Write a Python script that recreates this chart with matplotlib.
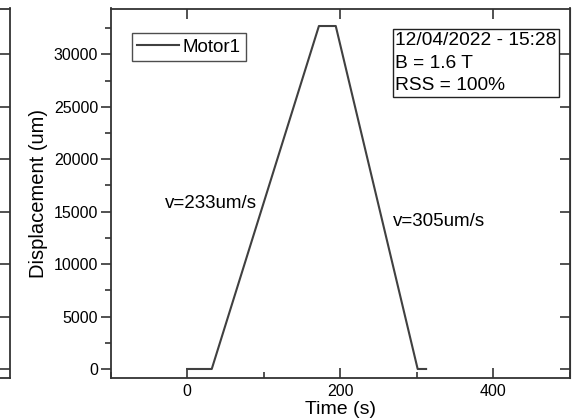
import matplotlib
matplotlib.use("Agg")
import matplotlib.pyplot as plt
from matplotlib.ticker import MultipleLocator

plt.rcParams['font.family'] = ['Liberation Sans', 'DejaVu Sans']

time_s = [0, 32, 172, 194, 301, 312]
disp_um = [0, 0, 32700, 32700, 0, 0]
series_name = "Motor1"
info_lines = ["12/04/2022 - 15:28", "B = 1.6 T", "RSS = 100%"]
ann_rise = "v=233um/s"
ann_fall = "v=305um/s"

W, H = 573, 420
fig = plt.figure(figsize=(W / 100, H / 100), dpi=100)

L, R, T, B = 110.7, 570, 8.5, 378
ax = fig.add_axes([L / W, 1 - B / H, (R - L) / W, (B - T) / H])

col = '#333333'
ax.plot(time_s, disp_um, color='#404040', lw=1.5, label=series_name)
ax.set_xlim(-100, 500)
ax.set_ylim(-860, 34370)

for s in ax.spines.values():
    s.set_color(col)
    s.set_linewidth(1.3)

ax.xaxis.set_major_locator(MultipleLocator(200))
ax.xaxis.set_minor_locator(MultipleLocator(100))
ax.yaxis.set_major_locator(MultipleLocator(5000))
ax.yaxis.set_minor_locator(MultipleLocator(2500))
ax.tick_params(axis='x', which='major', direction='in', length=7, width=1.2, top=True,
               labelsize=11.5, color=col, pad=4)
ax.tick_params(axis='x', which='minor', direction='in', length=4, width=1.2, top=False, color=col)
ax.tick_params(axis='y', which='major', direction='out', length=7, width=1.2, right=False,
               labelsize=11.5, color=col, pad=2)
ax.tick_params(axis='y', which='minor', direction='out', length=4, width=1.2, right=False, color=col)

sec = ax.secondary_yaxis('right')
sec.yaxis.set_major_locator(MultipleLocator(5000))
sec.tick_params(direction='in', length=7, width=1.2, labelright=False, color=col)
sec.spines['right'].set_color(col)

ax.set_xlabel("Time (s)", fontsize=14, labelpad=1.5)
ax.set_ylabel("Displacement (um)", fontsize=14.5, labelpad=4)

leg = ax.legend(loc='upper left', bbox_to_anchor=(0.0457, 0.9337), borderaxespad=0,
                fontsize=13.5, fancybox=False, frameon=True, edgecolor='#222222',
                handlelength=2.2, handletextpad=0.2, borderpad=0.3)
leg.get_frame().set_linewidth(1.0)

ax.text(0.620, 0.937, "\n".join(info_lines), fontsize=13.8, va='top', ha='left',
        linespacing=1.45, transform=ax.transAxes,
        bbox=dict(boxstyle='square,pad=0.12', fc='white', ec='#222222', lw=1.0))
ax.text(-29.5, 15800, ann_rise, fontsize=13.5, va='center', ha='left')
ax.text(269, 14100, ann_fall, fontsize=13.5, va='center', ha='left')

# partial neighbouring panel at left edge
ax2 = fig.add_axes([-0.5, 1 - B / H, 0.5 + 9.5 / W, (B - T) / H])
ax2.set_ylim(-860, 34370)
ax2.yaxis.set_major_locator(MultipleLocator(5000))
ax2.yaxis.tick_right()
ax2.tick_params(axis='y', direction='in', length=7, width=1.2, labelright=False, color=col)
ax2.set_xticks([])
for s in ax2.spines.values():
    s.set_color(col)
    s.set_linewidth(1.3)

fig.savefig("out.png", dpi=100)
